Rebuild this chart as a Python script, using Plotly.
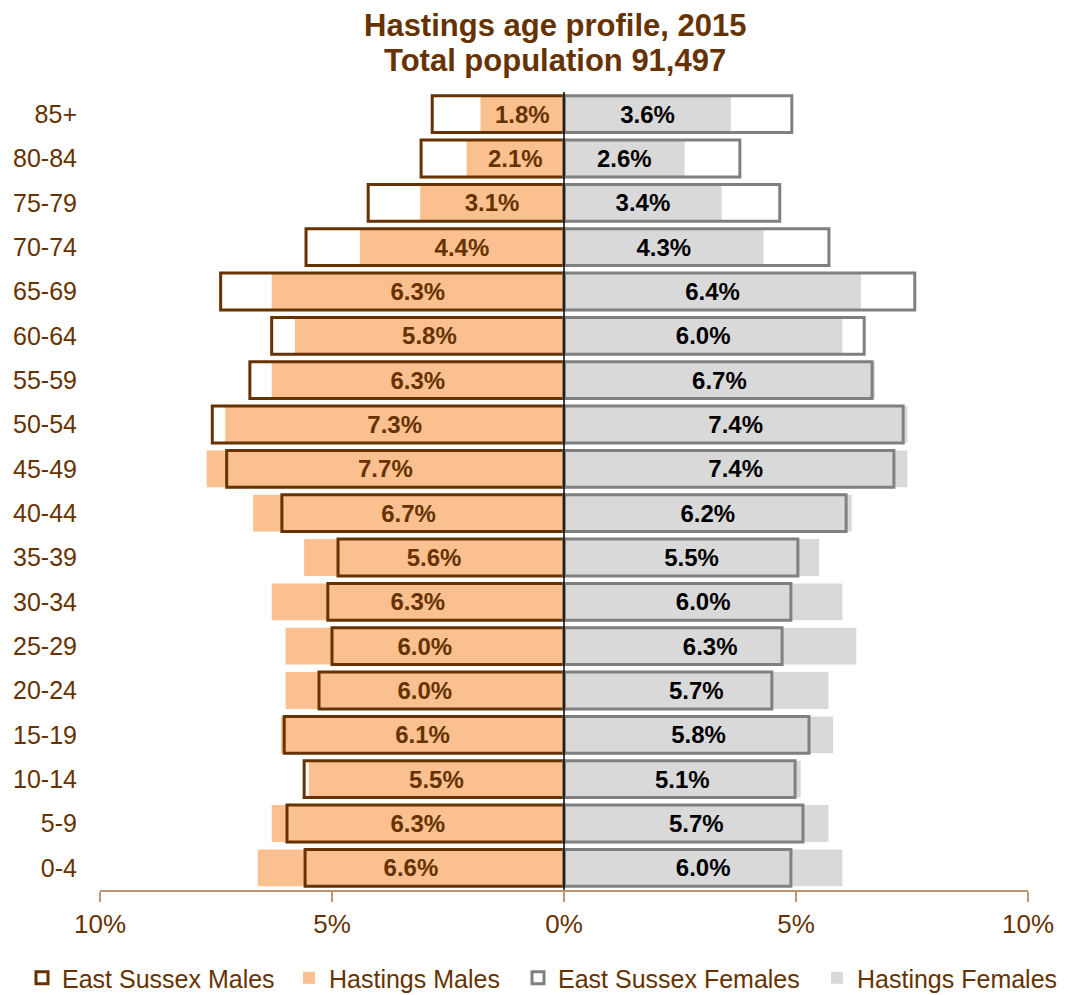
import plotly.graph_objects as go

ages = ["85+", "80-84", "75-79", "70-74", "65-69", "60-64", "55-59", "50-54", "45-49",
        "40-44", "35-39", "30-34", "25-29", "20-24", "15-19", "10-14", "5-9", "0-4"]
hastings_males = [1.8, 2.1, 3.1, 4.4, 6.3, 5.8, 6.3, 7.3, 7.7, 6.7, 5.6, 6.3, 6.0, 6.0, 6.1, 5.5, 6.3, 6.6]
es_males = [2.84, 3.08, 4.22, 5.56, 7.40, 6.30, 6.77, 7.58, 7.27, 6.08, 4.87, 5.09, 5.00, 5.28, 6.03, 5.60, 5.97, 5.58]
hastings_females = [3.6, 2.6, 3.4, 4.3, 6.4, 6.0, 6.7, 7.4, 7.4, 6.2, 5.5, 6.0, 6.3, 5.7, 5.8, 5.1, 5.7, 6.0]
es_females = [4.91, 3.79, 4.65, 5.71, 7.56, 6.47, 6.64, 7.31, 7.11, 6.08, 5.04, 4.89, 4.70, 4.48, 5.28, 4.98, 5.15, 4.89]

tick_vals = [-10, -5, 0, 5, 10]
tick_text = ["10%", "5%", "0%", "5%", "10%"]

FONT = "Liberation Sans, Arial, sans-serif"
BROWN = "#663300"
AXIS = "#c0946a"

fig = go.Figure()

fig.add_trace(go.Bar(
    y=ages, x=[-v for v in hastings_males], orientation="h", name="Hastings Males",
    marker=dict(color="#fac090", line=dict(width=0)),
    text=[f"{v:.1f}%" for v in hastings_males], textposition="inside",
    insidetextanchor="middle", textangle=0, constraintext="none",
    textfont=dict(family=FONT, size=24, color=BROWN, weight="bold"),
    legend="legend2", hoverinfo="skip"))

fig.add_trace(go.Bar(
    y=ages, x=hastings_females, orientation="h", name="Hastings Females",
    marker=dict(color="#d9d9d9", line=dict(width=0)),
    text=[f"{v:.1f}%" for v in hastings_females], textposition="inside",
    insidetextanchor="middle", textangle=0, constraintext="none",
    textfont=dict(family=FONT, size=24, color="#000000", weight="bold"),
    legend="legend4", hoverinfo="skip"))

fig.add_trace(go.Bar(
    y=ages, x=[-v for v in es_males], orientation="h", name="East Sussex Males",
    marker=dict(color="rgba(0,0,0,0)", line=dict(color=BROWN, width=3)),
    legend="legend", hoverinfo="skip"))

fig.add_trace(go.Bar(
    y=ages, x=es_females, orientation="h", name="East Sussex Females",
    marker=dict(color="rgba(0,0,0,0)", line=dict(color="#808080", width=3)),
    legend="legend3", hoverinfo="skip"))

W, H = 1073, 987


def leg(xpos):
    return dict(orientation="h", xref="container", x=xpos, xanchor="left",
                yref="container", y=0.0172, yanchor="middle",
                font=dict(family=FONT, size=25, color=BROWN),
                itemwidth=30, bgcolor="rgba(0,0,0,0)")


fig.update_layout(
    width=W, height=H,
    margin=dict(l=92, r=53, t=84, b=105, autoexpand=False),
    paper_bgcolor="white", plot_bgcolor="white",
    barmode="overlay", bargap=0.17,
    font=dict(family=FONT, color=BROWN),
    legend=leg(14 / W), legend2=leg(281 / W), legend3=leg(510 / W), legend4=leg(809 / W),
    showlegend=True,
    annotations=[
        dict(text="<b>Hastings age profile, 2015</b>", xref="paper", yref="paper",
             x=0.4903, y=1 + 67 / 798, xanchor="center", yanchor="middle", showarrow=False,
             font=dict(family=FONT, size=31, color=BROWN)),
        dict(text="<b>Total population 91,497</b>", xref="paper", yref="paper",
             x=0.4903, y=1 + 31 / 798, xanchor="center", yanchor="middle", showarrow=False,
             font=dict(family=FONT, size=31, color=BROWN)),
    ],
    shapes=[dict(type="line", xref="x", yref="paper", x0=0, x1=0, y0=0, y1=1,
                 line=dict(color="#000000", width=1.5), layer="above")],
)

fig.update_xaxes(range=[-10, 10], tickvals=tick_vals, ticktext=tick_text,
                 ticks="outside", ticklen=10, tickcolor=AXIS, tickwidth=1.5,
                 showline=True, linecolor=AXIS, linewidth=1.5,
                 showgrid=False, zeroline=False,
                 tickfont=dict(family=FONT, size=26, color=BROWN),
                 fixedrange=True, automargin=False)

fig.update_yaxes(type="category", categoryorder="array", categoryarray=ages,
                 autorange="reversed", showline=False, showgrid=False, ticks="",
                 ticklabelstandoff=22, zeroline=False, automargin=False,
                 tickfont=dict(family=FONT, size=25, color=BROWN), fixedrange=True)

fig.write_html("out.html")
